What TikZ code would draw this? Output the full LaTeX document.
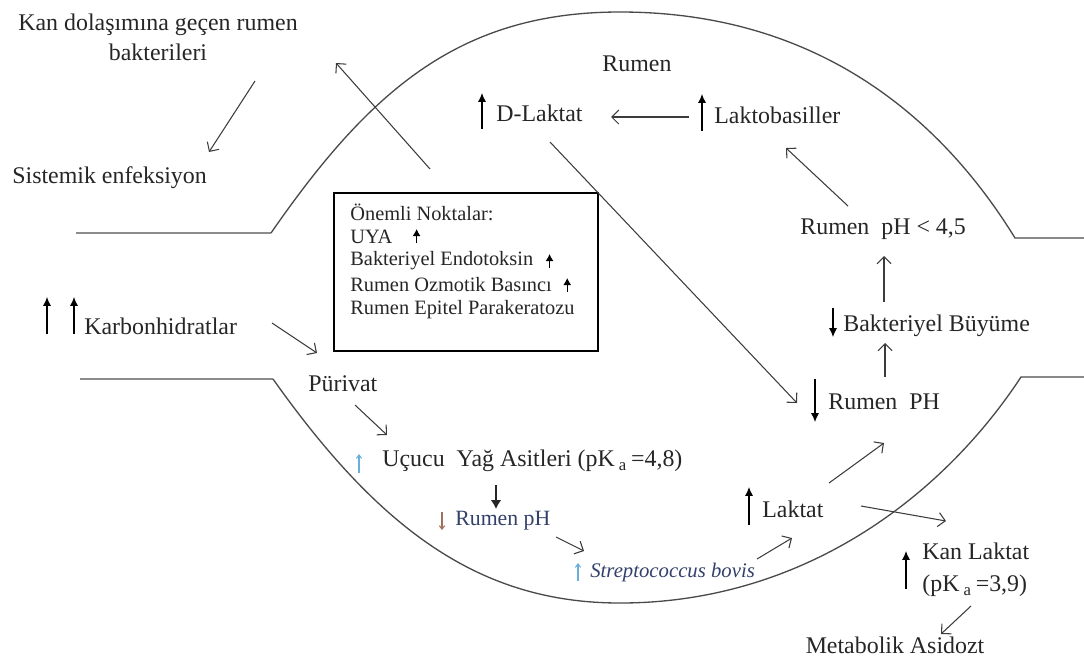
\documentclass[tikz,border=0pt]{standalone}
\usepackage{fontspec}
\setmainfont{Liberation Serif}
\usetikzlibrary{arrows.meta,positioning}
\definecolor{ink}{HTML}{262626}
\definecolor{wallgray}{HTML}{4A4A4A}
\definecolor{ledgegray}{HTML}{8C8C8C}
\definecolor{linkgray}{HTML}{3C3C3C}
\definecolor{paleblue}{HTML}{6AAEDC}
\definecolor{navyink}{HTML}{33406A}
\definecolor{rustink}{HTML}{A0705A}
\begin{document}
\begin{tikzpicture}[
            x=0.02cm, y=-0.02cm,
            every node/.style={inner sep=0pt, text=ink, font=\fontsize{13.6}{17}\selectfont},
            lbl/.style={anchor=west},
            wall/.style={draw=wallgray, line width=0.75pt},
            ledge/.style={draw=ledgegray, line width=1.2pt},
            link/.style={draw=linkgray, line width=0.6pt, -{Straight Barb[length=4pt,width=8pt]}},
            bigdown/.style={draw=ink, line width=1.3pt, -{Latex[length=5pt,width=6pt]}},
            trend/.style={draw=black, line width=0.6pt, -{Latex[length=5pt,width=4.5pt]}},
            notetrend/.style={draw=black, line width=0.6pt, -{Latex[length=4pt,width=4.5pt]}},
            smalltrend/.style={draw=paleblue, line width=0.6pt, -{Straight Barb[length=2pt,width=3pt]}},
            notebox/.style={draw=black, line width=1.6pt, minimum width=5.28cm, minimum height=3.16cm},
            notetext/.style={anchor=west, font=\fontsize{11.6}{14}\selectfont}
        ]
        \useasboundingbox (0,0) rectangle (1084,657);

        \draw[ledge] (76,233) -- (271,233);
        \draw[wall] (271,233) .. controls (370,90) and (460,12) .. (620,12)
            .. controls (800,12) and (930,100) .. (1015,238) -- (1084,238);
        \draw[ledge] (80,379) -- (273,379);
        \draw[wall] (273,379) .. controls (380,530) and (480,603) .. (620,603)
            .. controls (800,603) and (940,500) .. (1021,377) -- (1084,377);

        \node[align=center] (kan) at (158,37) {Kan dolaşımına geçen rumen\\bakterileri};
        \node[lbl] (sistemik) at (12,178) {Sistemik enfeksiyon};
        \node (rumen) at (637,64) {Rumen};
        \node[lbl] (dlaktat) at (496,113) {D-Laktat};
        \node[lbl] (lakto) at (714,115) {Laktobasiller};
        \node[lbl] (ph45) at (800,229) {Rumen\ \ pH < 4,5};
        \node[lbl] (buyume) at (843,326) {Bakteriyel Büyüme};
        \node[lbl] (rumenPH) at (828,402) {Rumen\ \ PH};
        \node[lbl] (laktat) at (762,509) {Laktat};
        \node[lbl, align=left] (kanlaktat) at (922,570) {Kan Laktat\\[1pt](pK\,\textsubscript{a}\,=3,9)};
        \node (asidoz) at (895,645) {Metabolik Asidozt};
        \node[lbl] (karbon) at (84,326) {Karbonhidratlar};
        \node[lbl] (purivat) at (308,384) {Pürivat};
        \node[lbl] (uya) at (382,461) {Uçucu\ \ Yağ Asitleri (pK\,\textsubscript{a}\,=4,8)};
        \node[lbl, text=navyink, font=\fontsize{12.4}{15}\selectfont] (rumenph) at (455,521) {Rumen pH};
        \node[lbl, text=navyink, font=\fontsize{11.8}{14}\selectfont\itshape] (strep) at (590,572) {Streptococcus bovis};

        \node[notebox] (notes) at (466,272) {};
        \node[notetext] (n1) at (350,212) {Önemli Noktalar:};
        \node[notetext] (n2) at (350,237) {UYA};
        \node[notetext] (n3) at (350,261) {Bakteriyel Endotoksin};
        \node[notetext] (n4) at (350,285) {Rumen Ozmotik Basıncı};
        \node[notetext] (n5) at (350,310) {Rumen Epitel Parakeratozu};

        \coordinate (exit) at (430,169);
        \coordinate (blood) at (336,63);

        \draw[link] ([shift={(97,44)}]kan.center) -- ([shift={(197,-26)}]sistemik.west);
        \draw[link] (exit) -- (blood);
        \draw[link] ([shift={(-25,2)}]lakto.west) -- ([shift={(115,4)}]dlaktat.west);
        \draw[link] ([shift={(48,-23)}]ph45.west) -- ([shift={(72,33)}]lakto.west);
        \draw[link] ([shift={(41,-24)}]buyume.west) -- ([shift={(84,27)}]ph45.west);
        \draw[link] ([shift={(57,-25)}]rumenPH.west) -- ([shift={(42,17)}]buyume.west);
        \draw[link] ([shift={(54,29)}]dlaktat.west) -- ([shift={(-31,1)}]rumenPH.west);
        \draw[link] ([shift={(67,-26)}]laktat.west) -- ([shift={(56,41)}]rumenPH.west);
        \draw[link] ([shift={(99,-3)}]laktat.west) -- ([shift={(24,-49)}]kanlaktat.west);
        \draw[link] ([shift={(49,36)}]kanlaktat.west) -- ([shift={(46,-11)}]asidoz.center);
        \draw[link] ([shift={(188,-3)}]karbon.west) -- ([shift={(9,-31)}]purivat.west);
        \draw[link] ([shift={(47,21)}]purivat.west) -- ([shift={(5,-26)}]uya.west);
        \draw[bigdown] ([shift={(114,24)}]uya.west) -- ([shift={(41,-12)}]rumenph.west);
        \draw[link] ([shift={(101,16)}]rumenph.west) -- ([shift={(-6,-21)}]strep.west);
        \draw[link] ([shift={(167,-13)}]strep.west) -- ([shift={(30,29)}]laktat.west);

        \draw[trend] ([shift={(-14,16)}]dlaktat.west) -- ++(0,-36);
        \draw[trend] ([shift={(-12,16)}]lakto.west) -- ++(0,-37);
        \draw[trend] ([shift={(-10,-18)}]buyume.west) -- ++(0,29);
        \draw[trend] ([shift={(-13,-23)}]rumenPH.west) -- ++(0,43);
        \draw[trend] ([shift={(-13,16)}]laktat.west) -- ++(0,-38);
        \draw[trend] ([shift={(-16,19)}]kanlaktat.west) -- ++(0,-38);
        \draw[trend] ([shift={(-37,8)}]karbon.west) -- ++(0,-37);
        \draw[trend] ([shift={(-10,8)}]karbon.west) -- ++(0,-37);
        \draw[smalltrend] ([shift={(-23,12)}]uya.west) -- ++(0,-19);
        \draw[smalltrend, draw=rustink] ([shift={(-13,-9)}]rumenph.west) -- ++(0,18);
        \draw[smalltrend] ([shift={(-12,9)}]strep.west) -- ++(0,-18);
        \draw[notetrend] ([shift={(24,6)}]n2.east) -- ++(0,-14);
        \draw[notetrend] ([shift={(16,7)}]n3.east) -- ++(0,-14);
        \draw[notetrend] ([shift={(15,7)}]n4.east) -- ++(0,-14);
    \end{tikzpicture}
\end{document}
